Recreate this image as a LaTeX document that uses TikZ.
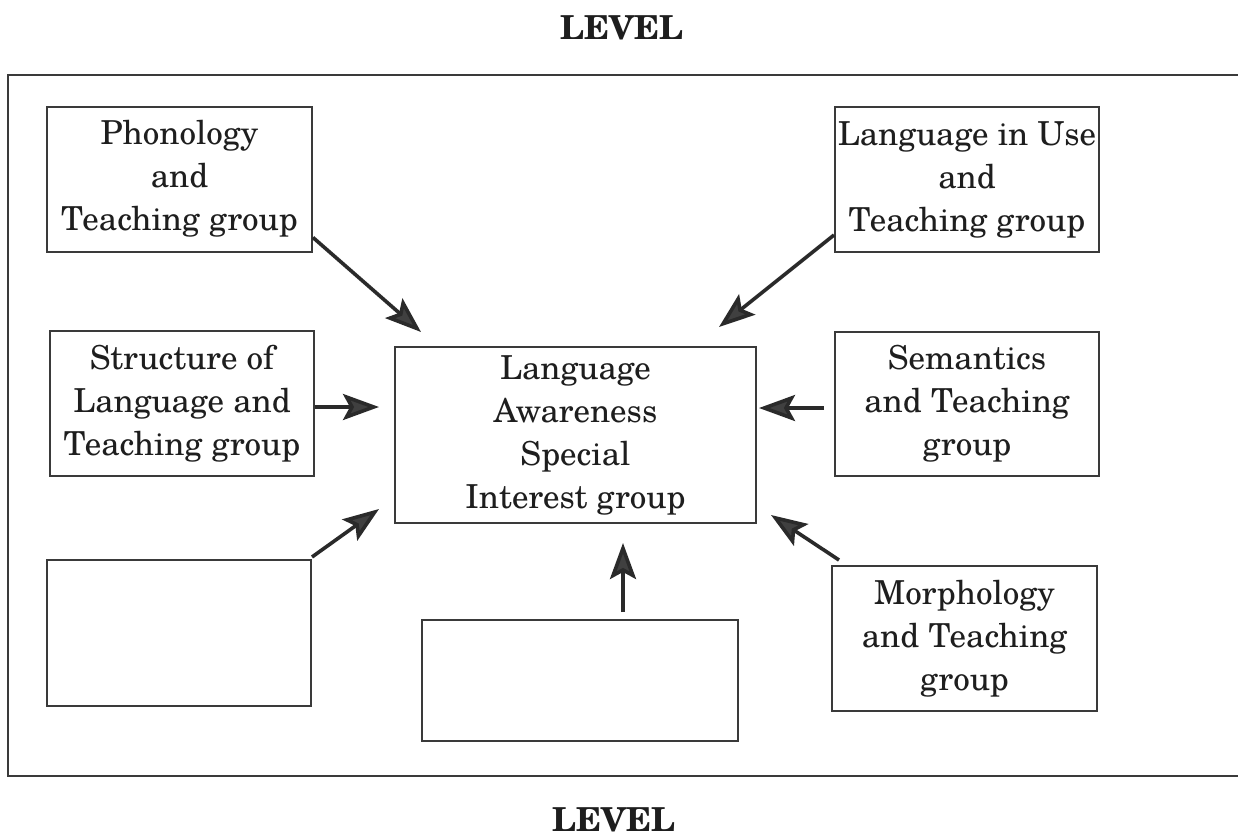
\documentclass[tikz,border=0pt]{standalone}
\usepackage{fontspec}
\setmainfont{texgyreschola}[Extension=.otf, UprightFont=*-regular, BoldFont=*-bold, ItalicFont=*-italic, BoldItalicFont=*-bolditalic]
\usetikzlibrary{arrows.meta,calc}
\definecolor{boxgray}{HTML}{3A3A3A}
\definecolor{linegray}{HTML}{2A2A2A}
\definecolor{headgray}{HTML}{404040}
\definecolor{inkgray}{HTML}{1E1E1E}
\tikzset{
  grpbox/.style={draw=boxgray, line width=1pt, align=center, inner sep=0pt,
    text=inkgray, font=\fontsize{16.5}{21.5}\selectfont},
  flow/.style={draw=linegray, line width=1.8pt,
    -{Stealth[length=18pt,width=13pt,inset=3.5pt,fill=headgray]}},
  levellabel/.style={font=\bfseries\fontsize{16.5}{20}\selectfont, text=inkgray, inner sep=0pt}
}
\begin{document}
\begin{tikzpicture}[x=0.5pt,y=-0.5pt]
\useasboundingbox[fill=white] (0,0) rectangle (1238,836);
% outer frame
\draw[draw=boxgray, line width=1pt] (8,75) rectangle (1260,776);
\node[levellabel] (toplevel) at (622,28) {LEVEL};
\node[levellabel] (botlevel) at (614,820) {LEVEL};
% boxes
\node[grpbox, minimum width=132.5pt, minimum height=72.5pt] (phon) at (179.5,179) {Phonology\\and\\Teaching group};
\node[grpbox, minimum width=132pt, minimum height=72.5pt] (struct) at (182,403.5) {Structure of\\Language and\\Teaching group};
\node[grpbox, minimum width=132pt, minimum height=73pt] (bl) at (179,633) {};
\node[grpbox, minimum width=180.5pt, minimum height=88pt] (las) at (575.5,435) {Language\\Awareness\\Special\\Interest group};
\node[grpbox, minimum width=158pt, minimum height=60.5pt] (bm) at (580,680.5) {};
\node[grpbox, minimum width=132pt, minimum height=72.5pt] (use) at (967,179.5) {Language in Use\\and\\Teaching group};
\node[grpbox, minimum width=132pt, minimum height=72pt] (sem) at (967,404) {Semantics\\and Teaching\\group};
\node[grpbox, minimum width=132.5pt, minimum height=72.5pt] (morph) at (964.5,638.5) {Morphology\\and Teaching\\group};
% connector end points
\coordinate (phonS) at ($(phon.south east)+(0,-15)$);
\coordinate (phonT) at ($(las.north west)+(27,-14)$);
\coordinate (useS) at ($(use.south west)+(0,-18)$);
\coordinate (useT) at ($(las.north east)+(-38,-19)$);
\coordinate (structT) at ($(las.west)+(-15,-28)$);
\coordinate (structS) at (struct.east |- structT);
\coordinate (semS) at ($(sem.west)+(-10,4)$);
\coordinate (semT) at ($(las.east |- semS)+(2,0)$);
\coordinate (blS) at ($(bl.north east)+(0,-2)$);
\coordinate (blT) at ($(las.south west)+(-15,-15)$);
\coordinate (bmS) at ($(bm.north)+(43,-7)$);
\coordinate (bmT) at ($(bmS |- las.south)+(0,19)$);
\coordinate (morphS) at ($(morph.north west)+(8,-5)$);
\coordinate (morphT) at ($(las.south east)+(14,-9)$);
% connectors
\draw[flow] (phonS) -- (phonT);
\draw[flow] (useS) -- (useT);
\draw[flow] (structS) -- (structT);
\draw[flow] (semS) -- (semT);
\draw[flow] (blS) -- (blT);
\draw[flow] (bmS) -- (bmT);
\draw[flow] (morphS) -- (morphT);
\end{tikzpicture}
\end{document}
